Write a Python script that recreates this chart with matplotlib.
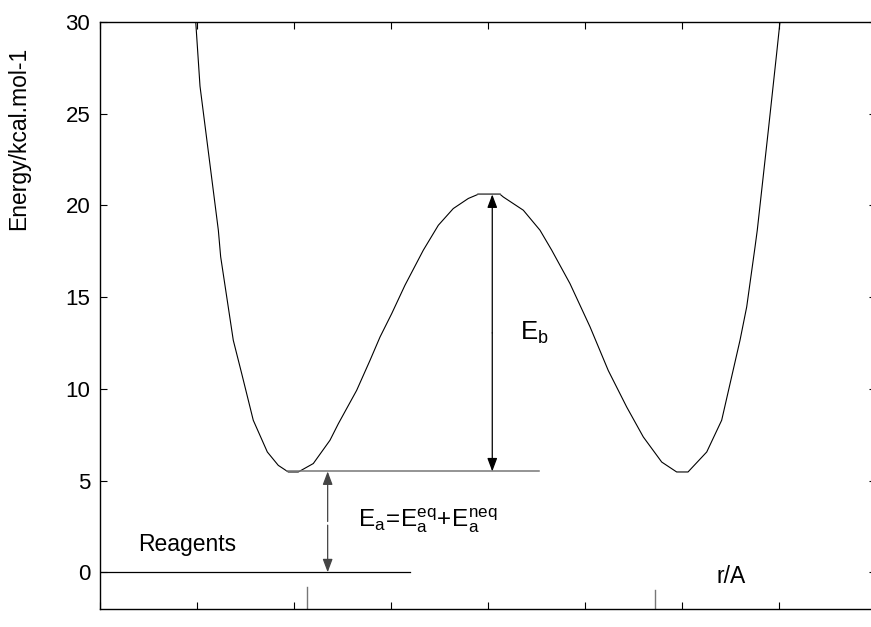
import matplotlib
matplotlib.use("Agg")
import matplotlib.pyplot as plt

plt.rcParams["font.family"] = ["Liberation Sans", "DejaVu Sans"]

# Double-well potential energy profile (reaction coordinate r, energy in kcal/mol)
r_values = [0.974, 0.987, 1.031, 1.220, 1.244, 1.374, 1.461, 1.580, 1.725, 1.838,
            1.941, 2.044, 2.199, 2.371, 2.457, 2.646, 2.784, 2.887, 3.007, 3.144,
            3.333, 3.488, 3.642, 3.797, 3.900, 4.124, 4.158, 4.364, 4.536, 4.657,
            4.845, 5.052, 5.240, 5.430, 5.601, 5.791, 5.945, 6.062, 6.255, 6.409,
            6.598, 6.667, 6.753, 6.776, 6.890, 6.976, 7.010, 7.021]
energy = [31.0, 30.0, 26.5, 18.65, 17.2, 12.65, 10.83, 8.29, 6.56, 5.83,
          5.47, 5.47, 5.93, 7.2, 8.1, 9.92, 11.56, 12.83, 14.1, 15.65,
          17.56, 18.92, 19.83, 20.38, 20.61, 20.61, 20.46, 19.74, 18.65, 17.56,
          15.74, 13.38, 11.0, 9.01, 7.38, 6.01, 5.47, 5.47, 6.56, 8.29,
          12.65, 14.47, 17.74, 18.65, 24.1, 28.3, 30.0, 31.0]

reagent_level = 0.0
well_level = 5.5
barrier_top = 20.6
y_ticks = [0, 5, 10, 15, 20, 25, 30]
x_ticks = [0, 1, 2, 3, 4, 5, 6, 7, 8]

fig = plt.figure(figsize=(8.71, 6.27), dpi=100)
ax = fig.add_axes([100 / 871, 18 / 627, 776 / 871, 587 / 627])

ax.plot(r_values, energy, color="black", lw=0.8, clip_on=True)

# Reference levels
ax.plot([0.0, 3.196], [reagent_level, reagent_level], color="black", lw=0.9)
ax.plot([1.925, 4.526], [well_level, well_level], color="#777777", lw=1.1)
ax.plot([3.90, 4.124], [barrier_top, barrier_top], color="#777777", lw=1.1)

# Small markers on the r axis
ax.plot([2.131, 2.131], [-0.79, -2.0], color="#777777", lw=1.0)
ax.plot([5.722, 5.722], [-0.97, -1.94], color="#777777", lw=1.0)

arrow = dict(arrowstyle="-|>,head_length=0.8,head_width=0.3", color="black",
             lw=0.9, shrinkA=0, shrinkB=0)

# Barrier height arrow
eb_x = 4.044
mid_b = (well_level + barrier_top) / 2
ax.annotate("", xy=(eb_x, barrier_top), xytext=(eb_x, mid_b), arrowprops=arrow)
ax.annotate("", xy=(eb_x, well_level), xytext=(eb_x, mid_b), arrowprops=arrow)

# Activation energy arrow
ea_x = 2.347
mid_a = 2.67
arrow_a = dict(arrow, color="#444444")
ax.annotate("", xy=(ea_x, well_level), xytext=(ea_x, mid_a + 0.1), arrowprops=arrow_a)
ax.annotate("", xy=(ea_x, reagent_level), xytext=(ea_x, mid_a - 0.1), arrowprops=arrow_a)

ax.text(4.33, 12.66, r"$\mathregular{E_b}$", fontsize=18.5, va="baseline", ha="left")
ax.text(2.663, 2.48, r"$\mathregular{E_a\!=\!E_a^{eq}\!+\!E_a^{neq}}$", fontsize=17.5,
        va="baseline", ha="left")
ax.text(0.39, 1.5, "Reagents", fontsize=16.5, va="center", ha="left")
ax.text(6.357, -0.25, "r/A", fontsize=16.5, va="center", ha="left")

fig.text(19 / 871, 1 - 138 / 627, "Energy/kcal.mol-1", rotation=90, fontsize=16.5,
         ha="center", va="center")

ax.set_xlim(0, 8)
ax.set_ylim(-2, 30)
ax.set_yticks(y_ticks)
ax.set_xticks(x_ticks)
ax.set_xticklabels([])
ax.tick_params(direction="in", length=5, width=0.8, top=True, right=True,
               labelsize=16, pad=7)
for s in ax.spines.values():
    s.set_linewidth(1.0)

fig.savefig("out.png", dpi=100)
